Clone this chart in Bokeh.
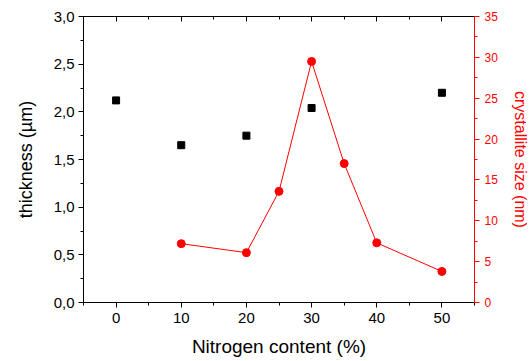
from bokeh.plotting import figure
from bokeh.models import LinearAxis, Range1d, SingleIntervalTicker, CustomJSTickFormatter
from bokeh.embed import file_html
from bokeh.resources import INLINE

# data
thick_x = [0, 10, 20, 30, 50]
thick_y = [2.12, 1.65, 1.75, 2.04, 2.20]
cs_x = [10, 20, 25, 30, 35, 40, 50]
cs_y = [7.2, 6.1, 13.6, 29.5, 17.0, 7.3, 3.8]

FONT = "Liberation Sans"
RED = "#FF0000"

p = figure(width=531, height=361, output_backend="svg", toolbar_location=None,
           x_range=Range1d(-5, 55), y_range=Range1d(0, 3),
           min_border_left=83, min_border_right=55, min_border_top=16, min_border_bottom=59,
           x_axis_label="Nitrogen content (%)", y_axis_label="thickness (µm)")
p.extra_y_ranges = {"cs": Range1d(0, 35)}
p.grid.visible = False
p.outline_line_color = None
p.background_fill_color = "white"
p.border_fill_color = "white"

comma = CustomJSTickFormatter(code="return tick.toFixed(1).replace('.', ',');")
blank = CustomJSTickFormatter(code="return '';")

def style(ax, color="black", tick_font=15, label_font=18):
    ax.axis_line_color = color
    ax.major_tick_line_color = color
    ax.minor_tick_line_color = color
    ax.major_label_text_color = color
    ax.axis_label_text_color = color
    ax.major_label_text_font = FONT
    ax.axis_label_text_font = FONT
    ax.major_label_text_font_size = f"{tick_font}px"
    ax.axis_label_text_font_size = f"{label_font}px"
    ax.axis_label_text_font_style = "normal"
    ax.major_tick_in = 0
    ax.major_tick_out = 5
    ax.minor_tick_in = 0
    ax.minor_tick_out = 3

xa = p.xaxis[0]
xa.ticker = SingleIntervalTicker(interval=10, num_minor_ticks=2)
style(xa, label_font=19)
xa.major_label_standoff = 5
xa.axis_label_standoff = 10

ya = p.yaxis[0]
ya.ticker = SingleIntervalTicker(interval=0.5, num_minor_ticks=2)
ya.formatter = comma
style(ya, label_font=18)
ya.major_label_standoff = 4
ya.axis_label_standoff = 15

ra = LinearAxis(y_range_name="cs", axis_label="crystallite size (nm)",
                ticker=SingleIntervalTicker(interval=5, num_minor_ticks=2))
style(ra, color=RED, tick_font=12, label_font=16)
ra.major_label_standoff = 5
ra.axis_label_standoff = 11
p.add_layout(ra, "right")

ta = LinearAxis(ticker=SingleIntervalTicker(interval=10, num_minor_ticks=2), formatter=blank)
style(ta)
ta.major_tick_in = 5
ta.major_tick_out = 0
ta.minor_tick_in = 3
ta.minor_tick_out = 0
ta.major_label_standoff = 0
p.add_layout(ta, "above")

p.scatter(thick_x, thick_y, marker="square", size=7, color="black")
p.line(cs_x, cs_y, y_range_name="cs", line_color=RED, line_width=1)
p.scatter(cs_x, cs_y, y_range_name="cs", marker="circle", size=8, color=RED)

open("out.html", "w").write(file_html(p, INLINE))
